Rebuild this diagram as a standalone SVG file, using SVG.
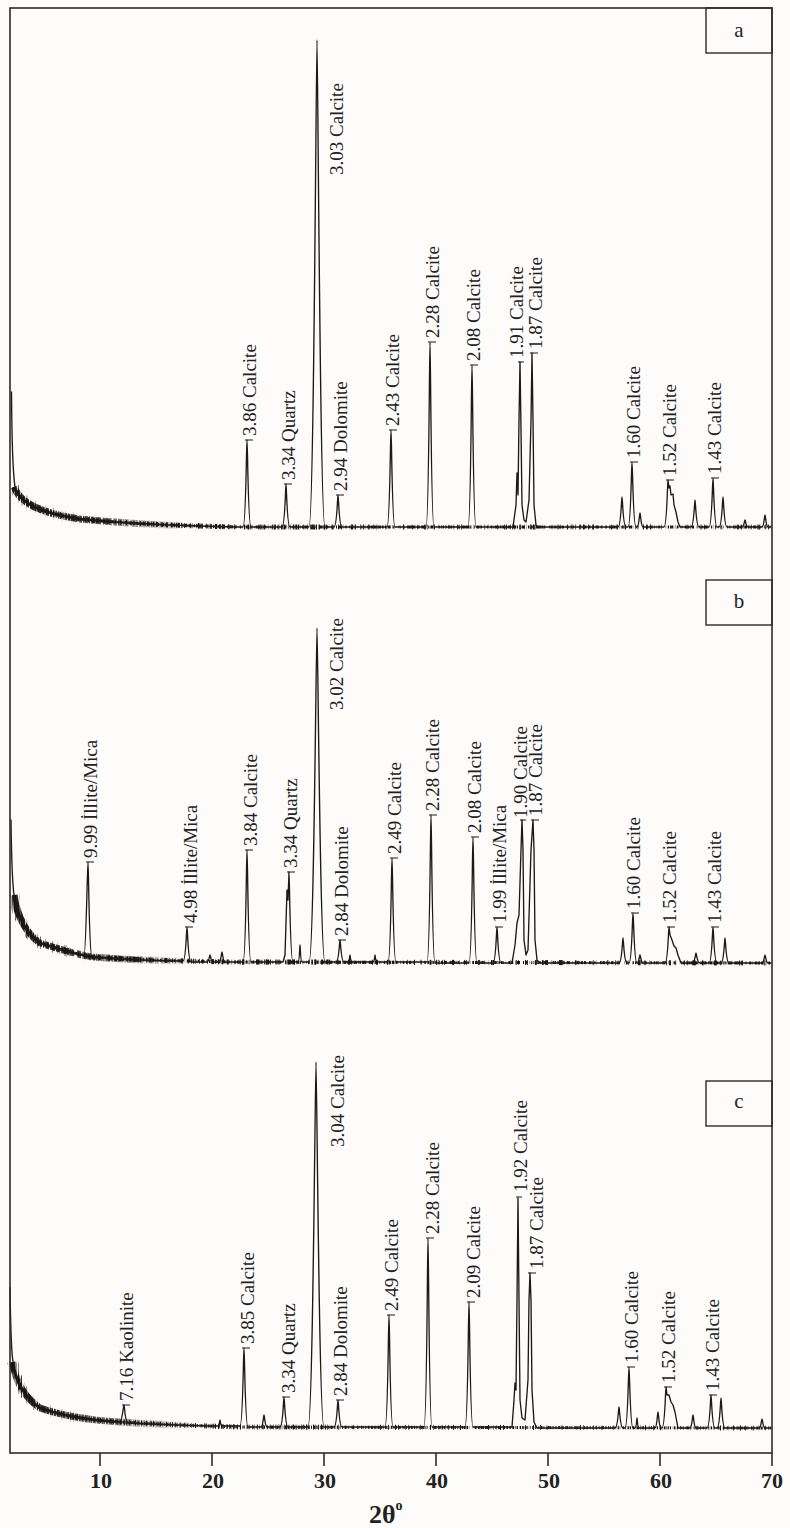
<svg xmlns="http://www.w3.org/2000/svg" width="790" height="1528" viewBox="0 0 790 1528">
<defs>
<linearGradient id="fade" gradientUnits="userSpaceOnUse" x1="14" y1="0" x2="190" y2="0">
<stop offset="0" stop-color="#151515" stop-opacity="1"/>
<stop offset="0.45" stop-color="#151515" stop-opacity="0.75"/>
<stop offset="1" stop-color="#151515" stop-opacity="0"/>
</linearGradient>
<linearGradient id="fade2" gradientUnits="userSpaceOnUse" x1="14" y1="0" x2="90" y2="0">
<stop offset="0" stop-color="#151515" stop-opacity="1"/>
<stop offset="1" stop-color="#151515" stop-opacity="0"/>
</linearGradient>
<filter id="n1" filterUnits="userSpaceOnUse" x="0" y="0" width="790" height="1528" color-interpolation-filters="sRGB">
<feTurbulence type="fractalNoise" baseFrequency="0.7 0.012" numOctaves="1" seed="2" result="t"/>
<feColorMatrix in="t" type="matrix" values="0 0 0 0 0  0 0 0 0 0  0 0 0 0 0  5 0 0 0 -2.0" result="m"/>
<feComposite in="SourceGraphic" in2="m" operator="in"/>
</filter>
<filter id="n2" filterUnits="userSpaceOnUse" x="0" y="0" width="790" height="1528" color-interpolation-filters="sRGB">
<feTurbulence type="fractalNoise" baseFrequency="0.65 0.012" numOctaves="1" seed="7" result="t"/>
<feColorMatrix in="t" type="matrix" values="0 0 0 0 0  0 0 0 0 0  0 0 0 0 0  6 0 0 0 -3.0" result="m"/>
<feComposite in="SourceGraphic" in2="m" operator="in"/>
</filter>
<filter id="n3" filterUnits="userSpaceOnUse" x="0" y="0" width="790" height="1528" color-interpolation-filters="sRGB">
<feTurbulence type="fractalNoise" baseFrequency="0.6 0.012" numOctaves="1" seed="11" result="t"/>
<feColorMatrix in="t" type="matrix" values="0 0 0 0 0  0 0 0 0 0  0 0 0 0 0  7 0 0 0 -4.0" result="m"/>
<feComposite in="SourceGraphic" in2="m" operator="in"/>
</filter>
<filter id="n4" filterUnits="userSpaceOnUse" x="0" y="0" width="790" height="1528" color-interpolation-filters="sRGB">
<feTurbulence type="fractalNoise" baseFrequency="0.75 0.012" numOctaves="1" seed="5" result="t"/>
<feColorMatrix in="t" type="matrix" values="0 0 0 0 0  0 0 0 0 0  0 0 0 0 0  5 0 0 0 -1.6" result="m"/>
<feComposite in="SourceGraphic" in2="m" operator="in"/>
</filter>
</defs>
<style>
.bg{fill:#fdfcfa}
.frame{fill:none;stroke:#2b2b2b;stroke-width:1.6}
.trace{fill:none;stroke:#1a1a1a;stroke-width:1.35;stroke-linejoin:round;stroke-linecap:round}
.fz1{fill:none;stroke:#151515;stroke-width:3.2;filter:url(#n1)}
.fz2{fill:none;stroke:#151515;stroke-width:5;filter:url(#n2)}
.fz3{fill:none;stroke:url(#fade);stroke-width:7;filter:url(#n4)}
.fz4{fill:none;stroke:url(#fade2);stroke-width:11;filter:url(#n3)}
.fz5{fill:none;stroke:#151515;stroke-width:5;filter:url(#n3)}
.fz6{fill:none;stroke:url(#fade);stroke-width:2.6}
.dash{fill:none;stroke:#1a1a1a;stroke-width:1}
.lbl{font-family:"Liberation Serif","Times New Roman",serif;font-size:19px;fill:#222}
.box{fill:#fdfcfa;stroke:#2b2b2b;stroke-width:1.4}
.boxt{font-family:"Liberation Serif","Times New Roman",serif;font-size:21px;fill:#222;text-anchor:middle}
.tick{stroke:#2b2b2b;stroke-width:1.6}
.tl{font-family:"Liberation Serif","Times New Roman",serif;font-size:22px;font-weight:bold;fill:#222;text-anchor:middle}
.ax{font-family:"Liberation Serif","Times New Roman",serif;font-size:26px;font-weight:bold;fill:#222}
</style>
<rect class="bg" x="0" y="0" width="790" height="1528"/>

<g id="panel-a">
<path class="fz1" d="M14,487 C20,503 40,513 80,519 C130,524 190,526 240,527 L771,527"/>
<path class="fz5" d="M14,487 C20,503 40,513 80,519 C130,524 190,526 240,527 L771,527"/>
<path class="fz2" d="M14,487 C20,503 40,513 80,519 C130,524 190,526 240,527 L330,527"/>
<path class="fz3" d="M14,487 C20,503 40,513 80,519 C130,524 170,525.5 200,526"/>
<path class="fz4" d="M14,487 C20,503 40,513 80,519 C85,519.5 90,520 95,520.5"/>
<path class="fz6" d="M14,487 C20,503 40,513 80,519 C130,524 170,525.5 200,526"/>
<path class="trace" d="M11.5,392 C11.8,440 12.5,470 15,487 C20,503 40,513 80,519 C130,524 190,526 240,527 L243,527 C246,527 246.4,440 247,440 C247.6,440 248,527 251,527 L282,527 C285,527 285.6,484 286,484 C286.4,484 287,527 290,527 L309,527 C314,527 316.2,40 317,40 C317.8,40 320,527 325,527 L334,527 C337,527 337.5,495 338,495 C338.5,495 339,527 342,527 L387,527 C390,527 390.4,430 391,430 C391.6,430 392,527 395,527 L426,527 C429,527 429.4,342 430,342 C430.6,342 431,527 434,527 L468,527 C471,527 471.4,365 472,365 C472.6,365 473,527 476,527 L513,527 L516,505 L517,473 L518,495 L519,420 L520,362 L521,430 L522,505 L524,520 L526,522 L529,500 L531,420 L532,353 L533,420 L534,505 L536,525 L538,527 L618,527 C621,527 621.5,497 622,497 C622.5,497 623,527 626,527 L628,527 C631,527 631.4,462 632,462 C632.6,462 633,527 636,527 L637,527 C639,527 639.5,513 640,513 C640.5,513 641,527 643,527 L664,527 C667,527 667.5,480 668,480 L669,488 L670,486 L671,495 L673,494 L674,505 L676,512 L678,522 L680,527 L691,527 C694,527 694.5,500 695,500 C695.5,500 696,527 699,527 L709,527 C712,527 712.5,478 713,478 C713.5,478 714,527 717,527 L719,527 C722,527 722.5,497 723,497 C723.5,497 724,527 727,527 L742,527 C744,527 744.5,520 745,520 C745.5,520 746,527 748,527 L762,527 C764,527 764.5,515 765,515 C765.5,515 766,527 768,527 L771,527"/>
<path class="dash" d="M245,440h8 M284,484h8 M336,495h8 M389,430h8 M428,342h8 M470,365h8 M518,362h6 M530,353h8 M630,462h8 M666,480h8 M711,478h8"/>
<text class="lbl" transform="translate(256,436) rotate(-90)">3.86 Calcite</text>
<text class="lbl" transform="translate(295,480) rotate(-90)">3.34 Quartz</text>
<text class="lbl" transform="translate(343,175) rotate(-90)">3.03 Calcite</text>
<text class="lbl" transform="translate(347,491) rotate(-90)">2.94 Dolomite</text>
<text class="lbl" transform="translate(399,426) rotate(-90)">2.43 Calcite</text>
<text class="lbl" transform="translate(439,338) rotate(-90)">2.28 Calcite</text>
<text class="lbl" transform="translate(480,361) rotate(-90)">2.08 Calcite</text>
<text class="lbl" transform="translate(523,358) rotate(-90)">1.91 Calcite</text>
<text class="lbl" transform="translate(542,349) rotate(-90)">1.87 Calcite</text>
<text class="lbl" transform="translate(640,458) rotate(-90)">1.60 Calcite</text>
<text class="lbl" transform="translate(676,476) rotate(-90)">1.52 Calcite</text>
<text class="lbl" transform="translate(721,474) rotate(-90)">1.43 Calcite</text>
<rect class="box" x="706" y="8" width="66" height="45"/>
<text class="boxt" x="739" y="37">a</text>
</g>

<g id="panel-b">
<path class="fz1" d="M14,895 C17,918 28,935 40,943 C65,951 80,955 92,957 C130,960 170,961 230,962 L771,963"/>
<path class="fz5" d="M14,895 C17,918 28,935 40,943 C65,951 80,955 92,957 C130,960 170,961 230,962 L771,963"/>
<path class="fz2" d="M14,895 C17,918 28,935 40,943 C65,951 80,955 92,957 C130,960 170,961 230,962 L330,962"/>
<path class="fz3" d="M14,895 C17,918 28,935 40,943 C65,951 80,955 92,957 C130,960 170,961 200,961.5"/>
<path class="fz4" d="M14,895 C17,918 28,935 40,943 C65,951 80,955 92,957"/>
<path class="fz6" d="M14,895 C17,918 28,935 40,943 C65,951 80,955 92,957 C130,960 170,961 200,961.5"/>
<path class="trace" d="M11,820 C11.5,860 12,880 14,895 C17,918 28,935 40,943 C65,951 80,955 84,955 C86,955 87.4,862 88,862 C88.6,862 89,956 92,957 C130,960 170,961 183,961 C186,961 186.5,927 187,927 C187.5,927 188,962 191,962 L207,962 C209,962 209.5,955 210,955 C210.5,955 211,962 213,962 L219,962 C221,962 221.5,952 222,952 C222.5,952 223,962 225,962 L243,962 C246,962 246.4,850 247,850 C247.6,850 248,962 251,962 L283,962 L285,955 L287,890 L288,900 L289,872 C289.5,872 290,962 293,962 L298,962 C299.5,962 299.8,945 300,945 C300.2,945 300.5,962 302,962 L309,962 C314,962 316.2,628 317,628 C317.8,628 320,962 325,962 L336,962 C339,962 339.5,940 340,940 C340.5,940 341,962 344,962 L348,962 C349.5,962 349.8,955 350,955 C350.2,955 350.5,962 352,962 L373,962 C374.5,962 374.8,955 375,955 C375.2,955 375.5,962 377,962 L388,962 C391,962 391.4,858 392,858 C392.6,858 393,962 396,962 L427,962 C430,962 430.4,815 431,815 C431.6,815 432,963 435,963 L469,963 C472,963 472.4,837 473,837 C473.6,837 474,963 477,963 L493,963 C496,963 496.5,927 497,927 C497.5,927 498,963 501,963 L512,963 L515,945 L517,923 L519,915 L521,850 L522,820 L523,850 L524,940 L526,955 L528,950 L531,850 L533,820 L534,850 L535,940 L537,960 L540,963 L619,963 C622,963 622.5,938 623,938 C623.5,938 624,963 627,963 L629,963 C632,963 632.4,913 633,913 C633.6,913 634,963 637,963 L638,963 L640,955 L642,963 L665,963 C668,963 668.5,927 669,927 L670,935 L672,940 L674,946 L676,948 L678,955 L681,963 L692,963 C695,963 695.5,953 696,953 C696.5,953 697,963 700,963 L709,963 C712,963 712.5,927 713,927 C713.5,927 714,963 717,963 L721,963 C724,963 724.5,938 725,938 C725.5,938 726,963 729,963 L762,963 C764,963 764.5,955 765,955 C765.5,955 766,963 768,963 L771,963"/>
<path class="dash" d="M86,862h8 M185,927h8 M245,850h8 M287,872h8 M338,940h8 M390,858h8 M429,815h8 M471,837h8 M495,927h8 M520,820h6 M531,820h8 M631,913h8 M667,927h8 M711,927h8"/>
<text class="lbl" transform="translate(97,858) rotate(-90)">9.99 İllite/Mica</text>
<text class="lbl" transform="translate(197,923) rotate(-90)">4.98 İllite/Mica</text>
<text class="lbl" transform="translate(257,846) rotate(-90)">3.84 Calcite</text>
<text class="lbl" transform="translate(297,868) rotate(-90)">3.34 Quartz</text>
<text class="lbl" transform="translate(343,710) rotate(-90)">3.02 Calcite</text>
<text class="lbl" transform="translate(348,936) rotate(-90)">2.84 Dolomite</text>
<text class="lbl" transform="translate(401,854) rotate(-90)">2.49 Calcite</text>
<text class="lbl" transform="translate(439,811) rotate(-90)">2.28 Calcite</text>
<text class="lbl" transform="translate(481,833) rotate(-90)">2.08 Calcite</text>
<text class="lbl" transform="translate(506,923) rotate(-90)">1.99 İllite/Mica</text>
<text class="lbl" transform="translate(527,818) rotate(-90)">1.90 Calcite</text>
<text class="lbl" transform="translate(542,816) rotate(-90)">1.87 Calcite</text>
<text class="lbl" transform="translate(640,909) rotate(-90)">1.60 Calcite</text>
<text class="lbl" transform="translate(676,923) rotate(-90)">1.52 Calcite</text>
<text class="lbl" transform="translate(721,923) rotate(-90)">1.43 Calcite</text>
<rect class="box" x="706" y="580" width="66" height="45"/>
<text class="boxt" x="739" y="608">b</text>
</g>

<g id="panel-c">
<path class="fz1" d="M13,1362 C15,1380 22,1395 40,1408 C60,1415 85,1420 120,1422 C170,1425 200,1426 240,1427 L771,1428"/>
<path class="fz5" d="M13,1362 C15,1380 22,1395 40,1408 C60,1415 85,1420 120,1422 C170,1425 200,1426 240,1427 L771,1428"/>
<path class="fz2" d="M13,1362 C15,1380 22,1395 40,1408 C60,1415 85,1420 120,1422 C170,1425 200,1426 240,1427 L330,1427"/>
<path class="fz3" d="M13,1362 C15,1380 22,1395 40,1408 C60,1415 85,1420 120,1422 C150,1424 180,1425.5 200,1426"/>
<path class="fz4" d="M13,1362 C15,1380 22,1395 40,1408 C60,1415 75,1418 95,1420"/>
<path class="fz6" d="M13,1362 C15,1380 22,1395 40,1408 C60,1415 85,1420 120,1422 C150,1424 180,1425.5 200,1426"/>
<path class="trace" d="M10,1288 C10.5,1320 11,1345 12.5,1358 C15,1380 22,1395 40,1408 C60,1415 85,1420 120,1422 C122,1422 123.5,1405 124,1405 C124.5,1405 125,1423 128,1423 C170,1425 200,1426 218,1426 C219.5,1426 219.8,1420 220,1420 C220.2,1420 220.5,1426 222,1426 L240,1426 C243,1426 243.4,1348 244,1348 C244.6,1348 245,1427 248,1427 L261,1427 C263,1427 263.5,1415 264,1415 C264.5,1415 265,1427 267,1427 L280,1427 C283,1427 283.5,1397 284,1397 C284.5,1397 285,1427 288,1427 L308,1427 C313,1427 315.2,1062 316,1062 C316.8,1062 319,1427 324,1427 L334,1427 C337,1427 337.5,1400 338,1400 C338.5,1400 339,1427 342,1427 L385,1427 C388,1427 388.4,1315 389,1315 C389.6,1315 390,1427 393,1427 L424,1427 C427,1427 427.4,1238 428,1238 C428.6,1238 429,1427 432,1427 L465,1427 C468,1427 468.4,1302 469,1302 C469.6,1302 470,1427 473,1427 L512,1427 L514,1400 L515,1383 L516,1390 L517,1300 L518,1198 L519,1300 L520,1400 L522,1418 L525,1420 L528,1380 L529,1300 L530,1273 L531,1300 L532,1390 L534,1422 L537,1428 L615,1428 C618,1428 618.5,1407 619,1407 C619.5,1407 620,1428 623,1428 L625,1428 C628,1428 628.4,1367 629,1367 C629.6,1367 630,1428 633,1428 L635,1428 C636.5,1428 636.8,1418 637,1418 C637.2,1418 637.5,1428 639,1428 L655,1428 C657,1428 657.5,1412 658,1412 C658.5,1412 659,1428 661,1428 L662,1428 C665,1428 665.5,1387 666,1387 L667,1395 L669,1395 L671,1402 L673,1405 L675,1412 L678,1428 L690,1428 C692,1428 692.5,1415 693,1415 C693.5,1415 694,1428 696,1428 L707,1428 C710,1428 710.5,1395 711,1395 C711.5,1395 712,1428 715,1428 L717,1428 C720,1428 720.5,1398 721,1398 C721.5,1398 722,1428 725,1428 L759,1428 C761,1428 761.5,1419 762,1419 C762.5,1419 763,1428 765,1428 L771,1428"/>
<path class="dash" d="M122,1405h8 M242,1348h8 M282,1397h8 M336,1400h8 M387,1315h8 M426,1238h8 M467,1302h8 M516,1197h6 M528,1273h8 M627,1367h8 M664,1387h8 M709,1395h8"/>
<text class="lbl" transform="translate(133,1401) rotate(-90)">7.16 Kaolinite</text>
<text class="lbl" transform="translate(254,1344) rotate(-90)">3.85 Calcite</text>
<text class="lbl" transform="translate(295,1393) rotate(-90)">3.34 Quartz</text>
<text class="lbl" transform="translate(344,1147) rotate(-90)">3.04 Calcite</text>
<text class="lbl" transform="translate(347,1396) rotate(-90)">2.84 Dolomite</text>
<text class="lbl" transform="translate(398,1311) rotate(-90)">2.49 Calcite</text>
<text class="lbl" transform="translate(439,1234) rotate(-90)">2.28 Calcite</text>
<text class="lbl" transform="translate(480,1298) rotate(-90)">2.09 Calcite</text>
<text class="lbl" transform="translate(527,1192) rotate(-90)">1.92 Calcite</text>
<text class="lbl" transform="translate(543,1269) rotate(-90)">1.87 Calcite</text>
<text class="lbl" transform="translate(638,1363) rotate(-90)">1.60 Calcite</text>
<text class="lbl" transform="translate(675,1383) rotate(-90)">1.52 Calcite</text>
<text class="lbl" transform="translate(719,1391) rotate(-90)">1.43 Calcite</text>
<rect class="box" x="706" y="1081" width="66" height="45"/>
<text class="boxt" x="739" y="1108">c</text>
</g>

<g id="frame">
<rect class="frame" x="10" y="8" width="762" height="1445"/>
</g>

<g id="x-axis">
<path class="tick" d="M100,1453v13 M212,1453v13 M324,1453v13 M436,1453v13 M548,1453v13 M660,1453v13 M772,1453v13"/>
<text class="tl" x="101" y="1488">10</text>
<text class="tl" x="213" y="1488">20</text>
<text class="tl" x="325" y="1488">30</text>
<text class="tl" x="437" y="1488">40</text>
<text class="tl" x="549" y="1488">50</text>
<text class="tl" x="661" y="1488">60</text>
<text class="tl" x="772" y="1488">70</text>
<text class="ax" x="369" y="1523">2θ<tspan font-size="14" dy="-13">o</tspan></text>
</g>
</svg>
